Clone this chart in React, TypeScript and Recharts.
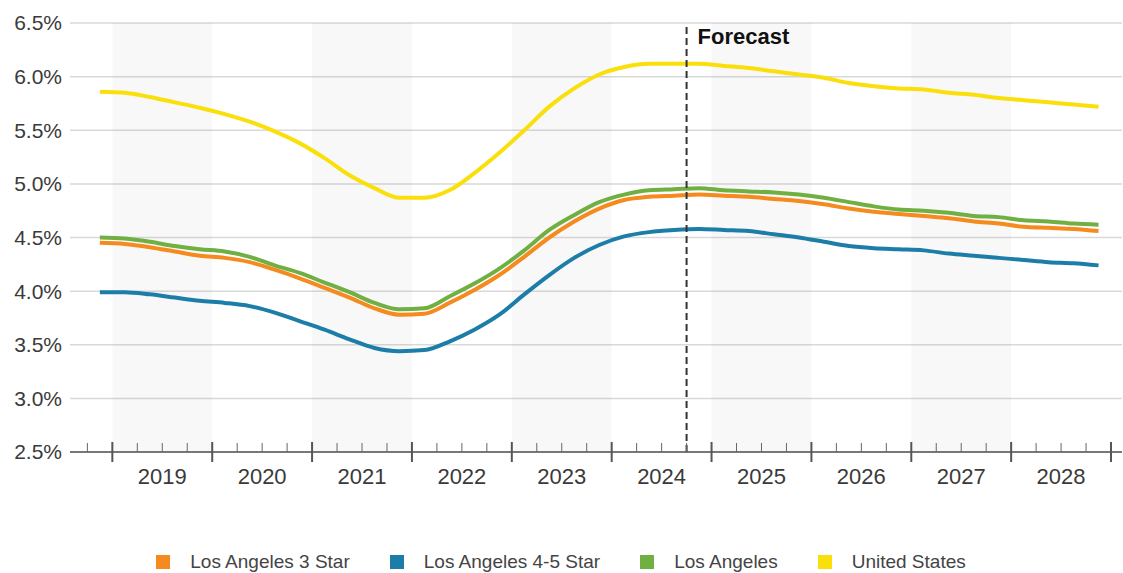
import { CartesianGrid, ComposedChart, Legend, Line, ReferenceArea, ReferenceLine, XAxis, YAxis } from 'recharts'

// quarterly series, Q4 2018 .. Q4 2028 (forecast from Q3 2024)
const quarters = [
  '2018 Q4',
  '2019 Q1', '2019 Q2', '2019 Q3', '2019 Q4',
  '2020 Q1', '2020 Q2', '2020 Q3', '2020 Q4',
  '2021 Q1', '2021 Q2', '2021 Q3', '2021 Q4',
  '2022 Q1', '2022 Q2', '2022 Q3', '2022 Q4',
  '2023 Q1', '2023 Q2', '2023 Q3', '2023 Q4',
  '2024 Q1', '2024 Q2', '2024 Q3', '2024 Q4',
  '2025 Q1', '2025 Q2', '2025 Q3', '2025 Q4',
  '2026 Q1', '2026 Q2', '2026 Q3', '2026 Q4',
  '2027 Q1', '2027 Q2', '2027 Q3', '2027 Q4',
  '2028 Q1', '2028 Q2', '2028 Q3', '2028 Q4',
]

const la3Star = [
  4.45, 4.44, 4.41, 4.37, 4.33, 4.31, 4.27, 4.2, 4.12, 4.03, 3.94, 3.84, 3.78, 3.79, 3.89, 4.01, 4.15, 4.32, 4.5,
  4.65, 4.77, 4.85, 4.88, 4.89, 4.9, 4.89, 4.88, 4.86, 4.84, 4.81, 4.77, 4.74, 4.72, 4.7, 4.68, 4.65, 4.63, 4.6,
  4.59, 4.58, 4.56,
]
const la45Star = [
  3.99, 3.99, 3.97, 3.94, 3.91, 3.89, 3.86, 3.8, 3.72, 3.64, 3.55, 3.47, 3.44, 3.45, 3.53, 3.64, 3.78, 3.97, 4.15,
  4.31, 4.43, 4.51, 4.55, 4.57, 4.58, 4.57, 4.56, 4.53, 4.5, 4.46, 4.42, 4.4, 4.39, 4.38, 4.35, 4.33, 4.31, 4.29,
  4.27, 4.26, 4.24,
]
const losAngeles = [
  4.5, 4.49, 4.46, 4.42, 4.39, 4.37, 4.32, 4.24, 4.17, 4.08, 3.99, 3.89, 3.83, 3.84, 3.95, 4.07, 4.21, 4.38, 4.57,
  4.71, 4.83, 4.9, 4.94, 4.95, 4.96, 4.94, 4.93, 4.92, 4.9, 4.87, 4.83, 4.79, 4.76, 4.75, 4.73, 4.7, 4.69, 4.66,
  4.65, 4.63, 4.62,
]
const unitedStates = [
  5.86, 5.85, 5.81, 5.76, 5.71, 5.65, 5.58, 5.49, 5.38, 5.24, 5.08, 4.96, 4.87, 4.87, 4.94, 5.1, 5.29, 5.5, 5.72,
  5.89, 6.02, 6.09, 6.12, 6.12, 6.12, 6.1, 6.08, 6.05, 6.02, 5.99, 5.94, 5.91, 5.89, 5.88, 5.85, 5.83, 5.8, 5.78,
  5.76, 5.74, 5.72,
]

const years = [2019, 2020, 2021, 2022, 2023, 2024, 2025, 2026, 2027, 2028]
const shadedYears = [2019, 2021, 2023, 2025, 2027]
const yTicks = [2.5, 3.0, 3.5, 4.0, 4.5, 5.0, 5.5, 6.0, 6.5]
const forecastStart = 2024.75

const SERIES = [
  { key: 'la3', name: 'Los Angeles 3 Star', color: '#F58A1F' },
  { key: 'la45', name: 'Los Angeles 4-5 Star', color: '#1C7EA8' },
  { key: 'la', name: 'Los Angeles', color: '#70B043' },
  { key: 'us', name: 'United States', color: '#FADF0A' },
]

const FONT = '"Liberation Sans", Arial, sans-serif'

// quarter label -> decimal year at mid-quarter
const toT = (q: string) => {
  const [y, qq] = q.split(' Q')
  return Number(y) + (Number(qq) - 0.5) / 4
}

const data = quarters.map((q, i) => ({
  t: toT(q),
  la3: la3Star[i],
  la45: la45Star[i],
  la: losAngeles[i],
  us: unitedStates[i],
}))

// quarter boundaries: long ticks on year starts, short ones in between, year label mid-year
const xTicks: number[] = []
for (let v = 2018.75; v <= 2029.001; v += 0.25) xTicks.push(v)

function YearTick(props: any) {
  const { x, y, payload } = props
  const v: number = payload.value
  const major = Math.abs(v - Math.round(v)) < 1e-6
  const mid = Math.abs(v - Math.floor(v) - 0.5) < 1e-6
  return (
    <g>
      {major ? (
        <line x1={x} x2={x} y1={y - 10} y2={y + 10} stroke="#555" strokeWidth={2} />
      ) : (
        <line x1={x} x2={x} y1={y - 9} y2={y} stroke="#666" strokeWidth={1} />
      )}
      {mid && years.includes(Math.floor(v)) && (
        <text x={x} y={y + 32} textAnchor="middle" fill="#3a3a3a" fontSize={22} fontFamily={FONT}>
          {Math.floor(v)}
        </text>
      )}
    </g>
  )
}

function LegendBox() {
  return (
    <div
      style={{
        display: 'flex',
        justifyContent: 'center',
        alignItems: 'center',
        paddingTop: 18,
        fontFamily: FONT,
        fontSize: 19,
        color: '#444',
        lineHeight: '22px',
      }}
    >
      {SERIES.map((s, i) => (
        <div key={s.key} style={{ display: 'flex', alignItems: 'center', marginLeft: i ? 40 : 0 }}>
          <span style={{ width: 14, height: 14, background: s.color, marginRight: 20, display: 'inline-block' }} />
          <span>{s.name}</span>
        </div>
      ))}
    </div>
  )
}

export default function App() {
  return (
    <div style={{ position: 'absolute', left: 0, top: 0, width: 1123, height: 573, background: '#fff' }}>
      <ComposedChart width={1123} height={573} data={data} margin={{ top: 23, right: 1, bottom: 0, left: 0 }}>
        {shadedYears.map((y) => (
          <ReferenceArea key={y} x1={y} x2={y + 1} y1={2.5} y2={6.5} fill="#000" fillOpacity={0.028} stroke="none" />
        ))}
        <CartesianGrid vertical={false} stroke="#d9d9d9" strokeWidth={1.5} />
        <XAxis
          dataKey="t"
          type="number"
          domain={[2018.576, 2029.11]}
          ticks={xTicks}
          interval={0}
          tick={<YearTick />}
          tickSize={0}
          tickMargin={0}
          tickLine={false}
          axisLine={{ stroke: '#555', strokeWidth: 1.5 }}
          height={81}
          allowDataOverflow
        />
        <YAxis
          type="number"
          domain={[2.5, 6.5]}
          ticks={yTicks}
          interval={0}
          tickFormatter={(v: number) => `${v.toFixed(1)}%`}
          axisLine={false}
          tickLine={false}
          width={70}
          tick={{ fill: '#3a3a3a', fontSize: 21, fontFamily: FONT }}
        />
        {SERIES.map((s) => (
          <Line
            key={s.key}
            type="monotone"
            dataKey={s.key}
            name={s.name}
            stroke={s.color}
            strokeWidth={4}
            dot={false}
            activeDot={false}
            isAnimationActive={false}
          />
        ))}
        <ReferenceLine
          x={forecastStart}
          stroke="#333"
          strokeWidth={2}
          strokeDasharray="7 4"
          label={(p: any) => (
            <text
              x={(p.viewBox?.x ?? 686) + 11}
              y={44}
              fill="#111"
              fontSize={22}
              fontWeight="bold"
              fontFamily={FONT}
            >
              Forecast
            </text>
          )}
        />
        <Legend verticalAlign="bottom" height={40} content={<LegendBox />} />
      </ComposedChart>
    </div>
  )
}
